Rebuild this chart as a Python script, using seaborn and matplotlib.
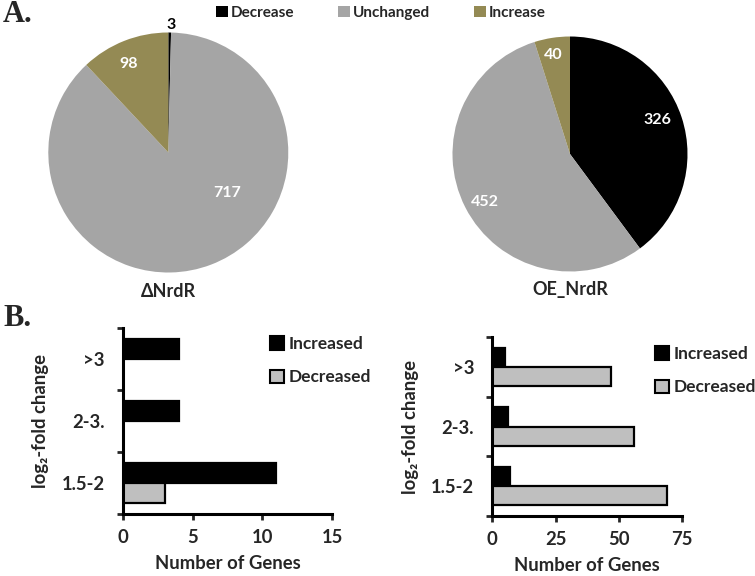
import matplotlib
matplotlib.use("Agg")
import matplotlib.pyplot as plt
import seaborn as sns
import pandas as pd
from matplotlib.patches import Patch

# ---- data ----
pie_labels = ["Decrease", "Unchanged", "Increase"]
pie_dnrdr = [3, 717, 98]
pie_oe = [326, 452, 40]

fold_cats = [">3", "2-3.", "1.5-2"]
d_increased = [4, 4, 11]
d_decreased = [0, 0, 3]
oe_increased = [5, 6, 7]
oe_decreased = [47, 56, 69]

pie_colors = ["#000000", "#A5A5A5", "#948A54"]
bar_colors = ["#000000", "#BFBFBF"]

sns.set_style("white")
plt.rcParams["font.family"] = ["Lato", "DejaVu Sans"]
plt.rcParams["font.weight"] = "bold"

TW = "bold"
FS = 13.3
LFS = 12.5
W, H = 755, 576
fig = plt.figure(figsize=(W / 100, H / 100), dpi=100)


def px_axes(x0, y0, w, h):
    return fig.add_axes([x0 / W, (H - y0 - h) / H, w / W, h / H])


def draw_pie(ax, vals, label_pos, title):
    ax.pie(vals, colors=pie_colors, startangle=90, counterclock=False,
           radius=1, wedgeprops=dict(linewidth=0))
    for i, (v, (lx, ly)) in enumerate(zip(vals, label_pos)):
        col = "black" if i == 0 and v < 10 else "white"
        ax.text(lx, ly, str(v), ha="center", va="center", color=col,
                fontsize=11.5, fontweight="bold")
    ax.set_xlim(-1, 1)
    ax.set_ylim(-1, 1)
    ax.axis("off")
    ax.text(0, -1.155, title, ha="center", va="center", fontsize=13,
            fontweight=TW, clip_on=False)


ax1 = px_axes(48.3, 32.5, 240, 240)
draw_pie(ax1, pie_dnrdr, [(0.02, 1.06), (0.487, -0.34), (-0.333, 0.738)], "ΔNrdR")
ax2 = px_axes(452.5, 36.5, 235, 235)
draw_pie(ax2, pie_oe, [(0.743, 0.289), (-0.723, -0.406), (-0.142, 0.843)], "OE_NrdR")

# top legend
handles = [Patch(facecolor=c, edgecolor="none") for c in pie_colors]
fig.legend(handles, pie_labels, loc="center", bbox_to_anchor=(381 / W, 1 - 13 / H),
           ncol=3, frameon=False, prop=dict(size=11, weight=TW),
           handlelength=0.75, handleheight=0.75,
           handletextpad=0.2, columnspacing=2.9, borderpad=0)


def draw_bars(ax, inc, dec, xmax, xticks, lab_x, leg_anchor):
    df = pd.DataFrame({
        "cat": fold_cats * 2,
        "val": inc + dec,
        "grp": ["Increased"] * 3 + ["Decreased"] * 3,
    })
    sns.barplot(data=df, y="cat", x="val", hue="grp", order=fold_cats,
                hue_order=["Increased", "Decreased"], palette=bar_colors,
                orient="h", width=0.64, edgecolor="black", linewidth=1.6,
                ax=ax, legend=False)
    ax.set_xlim(0, xmax)
    ax.set_ylim(2.5, -0.5)
    ax.set_xticks(xticks)
    ax.set_xticklabels([str(t) for t in xticks], fontsize=FS, fontweight=TW)
    ax.set_yticks([-0.5, 0.5, 1.5, 2.5])
    ax.set_yticklabels([])
    ax.set_yticks([0, 1, 2], minor=True)
    ax.set_yticklabels(fold_cats, minor=True, fontsize=FS, fontweight=TW)
    ax.tick_params(axis="y", which="minor", length=0, pad=13)
    ax.tick_params(axis="y", which="major", length=4, width=2, direction="out", left=True)
    ax.tick_params(axis="x", which="major", length=4, width=2, direction="out",
                   bottom=True, pad=7)
    for s in ["top", "right"]:
        ax.spines[s].set_visible(False)
    for s in ["left", "bottom"]:
        ax.spines[s].set_linewidth(2.2)
        ax.spines[s].set_color("black")
    ax.set_xlabel("Number of Genes", fontsize=FS, fontweight=TW, labelpad=6)
    ax.set_ylabel("log₂-fold change", fontsize=FS, fontweight=TW)
    ax.yaxis.set_label_coords(lab_x, 0.5)
    h = [Patch(facecolor=c, edgecolor="black", linewidth=1.5) for c in bar_colors]
    ax.legend(h, ["Increased", "Decreased"], loc="upper left", bbox_to_anchor=leg_anchor,
              frameon=False, prop=dict(size=LFS, weight=TW),
              handlelength=0.8, handleheight=0.8,
              handletextpad=0.25, labelspacing=1.0, borderpad=0, borderaxespad=0)


ax3 = px_axes(122.7, 328, 209.6, 186)
draw_bars(ax3, d_increased, d_decreased, 15, [0, 5, 10, 15], -0.35,
          ((270 - 122.7) / 209.6, 1 - (336 - 328) / 186))
ax4 = px_axes(492.3, 337, 190, 179)
draw_bars(ax4, oe_increased, oe_decreased, 75, [0, 25, 50, 75], -0.385,
          ((655 - 492.3) / 190, 1 - (346 - 337) / 179))

fig.text(3 / W, 1 - 15 / H, "A.", fontsize=22, fontweight="bold",
         family="Liberation Serif", va="center", ha="left")
fig.text(3 / W, 1 - 318 / H, "B.", fontsize=22, fontweight="bold",
         family="Liberation Serif", va="center", ha="left")

fig.savefig("out.png", dpi=100, facecolor="white")
